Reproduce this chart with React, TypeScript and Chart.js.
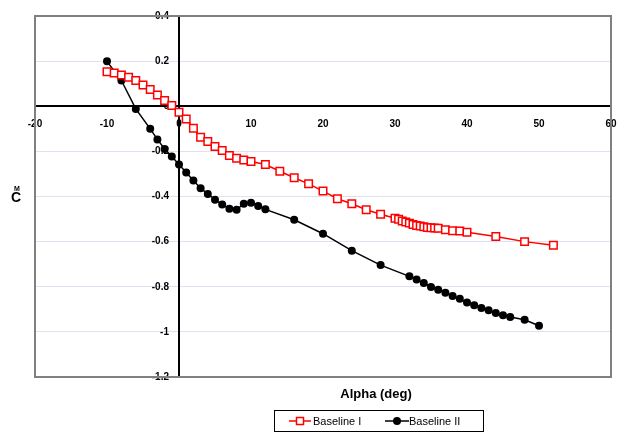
import React, { useEffect, useRef } from "react";
import { Chart, registerables } from "chart.js";

Chart.register(...registerables);

const alphaI = [-10, -9, -8, -7, -6, -5, -4, -3, -2, -1, 0, 1, 2, 3, 4, 5, 6, 7, 8, 9, 10, 12, 14, 16, 18, 20, 22, 24, 26, 28, 30, 30.5, 31, 31.5, 32, 32.5, 33, 33.5, 34, 34.5, 35, 35.5, 36, 37, 38, 39, 40, 44, 48, 52];
const cmI = [0.153, 0.147, 0.139, 0.128, 0.114, 0.094, 0.074, 0.05, 0.025, 0.003, -0.027, -0.056, -0.097, -0.137, -0.156, -0.178, -0.196, -0.218, -0.23, -0.238, -0.245, -0.258, -0.288, -0.317, -0.344, -0.376, -0.41, -0.432, -0.459, -0.479, -0.496, -0.501, -0.509, -0.513, -0.518, -0.524, -0.528, -0.531, -0.534, -0.537, -0.538, -0.54, -0.541, -0.547, -0.552, -0.553, -0.558, -0.577, -0.6, -0.616];

const alphaII = [-10, -8, -6, -4, -3, -2, -1, 0, 1, 2, 3, 4, 5, 6, 7, 8, 9, 10, 11, 12, 16, 20, 24, 28, 32, 33, 34, 35, 36, 37, 38, 39, 40, 41, 42, 43, 44, 45, 46, 48, 50];
const cmII = [0.199, 0.114, -0.012, -0.1, -0.147, -0.189, -0.223, -0.258, -0.294, -0.329, -0.363, -0.389, -0.414, -0.435, -0.454, -0.459, -0.432, -0.428, -0.442, -0.457, -0.503, -0.565, -0.64, -0.704, -0.754, -0.768, -0.783, -0.801, -0.813, -0.827, -0.841, -0.853, -0.87, -0.882, -0.894, -0.904, -0.916, -0.926, -0.934, -0.946, -0.973];

const xTickValues = [-20, -10, 0, 10, 20, 30, 40, 50, 60];
const xTickLabels = ["-20", "-10", "0", "10", "20", "30", "40", "50", "60"];
const yTickValues = [-1.2, -1, -0.8, -0.6, -0.4, -0.2, 0, 0.2, 0.4];
const yTickLabels = ["-1.2", "-1", "-0.8", "-0.6", "-0.4", "-0.2", "0", "0.2", "0.4"];

const seriesNames = ["Baseline I", "Baseline II"];
const xTitle = "Alpha (deg)";

const FONT = "'Liberation Sans', Arial, sans-serif";

const decorPlugin = {
  id: "decor",
  afterDraw(chart: any) {
    const { ctx, chartArea } = chart;
    ctx.save();
    // plot frame
    ctx.strokeStyle = "#808080";
    ctx.lineWidth = 2;
    ctx.strokeRect(chartArea.left, chartArea.top, chartArea.right - chartArea.left, chartArea.bottom - chartArea.top);

    // y title  C with M
    ctx.fillStyle = "#000";
    ctx.textAlign = "center";
    ctx.textBaseline = "middle";
    ctx.font = `bold 14px ${FONT}`;
    ctx.fillText("C", 16, 198);
    ctx.font = `bold 7px ${FONT}`;
    ctx.fillText("M", 17, 189);

    // x title
    ctx.font = `bold 13px ${FONT}`;
    ctx.fillText(xTitle, 376, 394);

    // legend
    const lx = 274, ly = 410, lw = 209, lh = 21;
    ctx.strokeStyle = "#000";
    ctx.lineWidth = 1;
    ctx.strokeRect(lx + 0.5, ly + 0.5, lw, lh);
    const cy = ly + lh / 2 + 0.5;
    // item 1
    ctx.strokeStyle = "#ff0000";
    ctx.lineWidth = 1.5;
    ctx.beginPath();
    ctx.moveTo(289, cy);
    ctx.lineTo(311, cy);
    ctx.stroke();
    ctx.fillStyle = "#fff";
    ctx.fillRect(296.5, cy - 3.5, 7, 7);
    ctx.strokeRect(296.5, cy - 3.5, 7, 7);
    // item 2
    ctx.strokeStyle = "#000";
    ctx.beginPath();
    ctx.moveTo(385, cy);
    ctx.lineTo(409, cy);
    ctx.stroke();
    ctx.fillStyle = "#000";
    ctx.beginPath();
    ctx.arc(397, cy, 4, 0, Math.PI * 2);
    ctx.fill();
    ctx.font = `11px ${FONT}`;
    ctx.textAlign = "left";
    ctx.fillStyle = "#000";
    ctx.fillText(seriesNames[0], 313, cy + 0.5);
    ctx.fillText(seriesNames[1], 409, cy + 0.5);
    ctx.restore();
  },
};

export default function App() {
  const ref = useRef<HTMLCanvasElement>(null);
  useEffect(() => {
    const canvas = ref.current;
    if (!canvas) return;
    const chart = new Chart(canvas, {
      type: "line",
      data: {
        datasets: [
          {
            label: seriesNames[0],
            data: alphaI.map((a, i) => ({ x: a, y: cmI[i] })),
            borderColor: "#ff0000",
            borderWidth: 1.5,
            pointStyle: "rect",
            pointRadius: 5.3,
            pointBorderWidth: 1.5,
            pointBorderColor: "#ff0000",
            pointBackgroundColor: "#ffffff",
            tension: 0,
          },
          {
            label: seriesNames[1],
            data: alphaII.map((a, i) => ({ x: a, y: cmII[i] })),
            borderColor: "#000000",
            borderWidth: 1.5,
            pointStyle: "circle",
            pointRadius: 4,
            pointBorderWidth: 0,
            pointBackgroundColor: "#000000",
            tension: 0,
          },
        ],
      },
      options: {
        responsive: false,
        animation: false,
        layout: { padding: { left: 35, right: 18, top: 15, bottom: 55 } },
        plugins: { legend: { display: false }, tooltip: { enabled: false } },
        scales: {
          x: {
            type: "linear",
            min: -20,
            max: 60,
            position: { y: 0 } as any,
            afterBuildTicks: (s: any) => {
              s.ticks = xTickValues.map((v) => ({ value: v }));
            },
            afterFit: (s: any) => {
              s.height = 0;
            },
            ticks: {
              autoSkip: false,
              maxRotation: 0,
              padding: 12,
              color: "#000",
              font: { family: FONT, size: 10, weight: "bold" },
              callback: (_v: any, i: number) => xTickLabels[i],
            },
            grid: { drawOnChartArea: false, drawTicks: false },
            border: { color: "#000", width: 2 },
          },
          y: {
            type: "linear",
            min: -1.2,
            max: 0.4,
            position: { x: 0 } as any,
            afterBuildTicks: (s: any) => {
              s.ticks = yTickValues.map((v) => ({ value: v }));
            },
            afterFit: (s: any) => {
              s.width = 0;
            },
            ticks: {
              autoSkip: false,
              padding: 10,
              color: "#000",
              font: { family: FONT, size: 10, weight: "bold" },
              callback: (_v: any, i: number) => yTickLabels[i] + "\u2002\u2002",
            },
            grid: { color: "#dbe3f1", lineWidth: 1, drawTicks: false },
            border: { color: "#000", width: 2 },
          },
        },
      },
      plugins: [decorPlugin],
    });
    return () => chart.destroy();
  }, []);
  return (
    <div style={{ position: "fixed", left: 0, top: 0, width: 629, height: 432, background: "#fff" }}>
      <canvas ref={ref} width={629} height={432} style={{ width: 629, height: 432 }} />
    </div>
  );
}
